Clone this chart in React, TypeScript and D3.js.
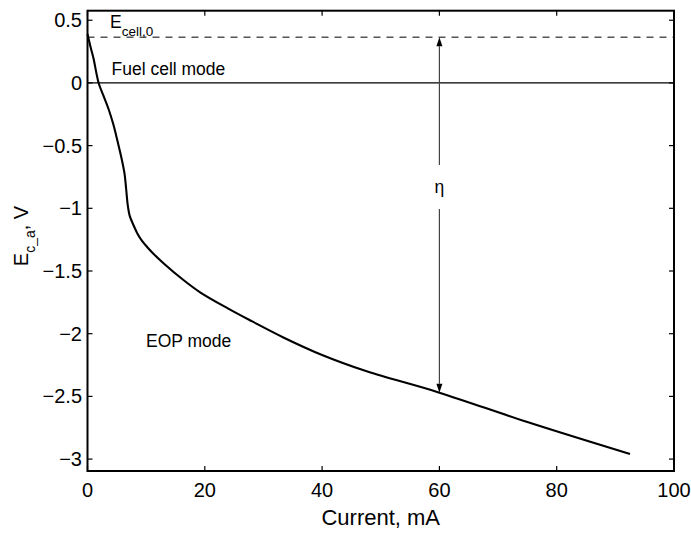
import React from "react";
import * as d3 from "d3";

// Polarisation curve: cell potential vs. current
const currentMA = [0, 0.5, 1.0, 1.9, 2.7, 3.6, 4.4, 5.15, 5.8, 6.3, 6.6, 6.85, 7.2, 7.8, 8.5, 9.3, 10.2, 11.2, 13, 16.3, 19.2, 24, 28, 33.4, 40, 47.6, 60, 75, 92.5];
const potentialV = [0.39, 0.29, 0.2, 0, -0.1, -0.21, -0.33, -0.47, -0.6, -0.72, -0.85, -0.97, -1.06, -1.13, -1.2, -1.26, -1.31, -1.36, -1.44, -1.57, -1.67, -1.8, -1.9, -2.03, -2.17, -2.3, -2.47, -2.705, -2.96];

const xTicks = [0, 20, 40, 60, 80, 100];
const yTicks = [0.5, 0, -0.5, -1, -1.5, -2, -2.5, -3];

const eCell0 = 0.365;
const etaCurrent = 60;
const etaPotential = -2.47;
const etaLabelV = -0.83;

const W = 691;
const H = 533;
const left = 87.5;
const right = 674;
const top = 10.7;
const bottom = 471;

export default function App() {
  const x = d3.scaleLinear().domain([0, 100]).range([left, right]);
  const y = d3.scaleLinear().domain([-3.095, 0.576]).range([bottom, top]);
  const fmt = d3.format("~g");

  const pts: [number, number][] = currentMA.map((c, i) => [c, potentialV[i]]);
  const line = d3
    .line<[number, number]>()
    .x((d) => x(d[0]))
    .y((d) => y(d[1]))
    .curve(d3.curveCatmullRom.alpha(0.5));

  const font = "'Liberation Sans', Arial, Helvetica, sans-serif";
  const tickLen = 5;
  const ax = x(etaCurrent);
  const ahL = 9;
  const ahW = 3;
  const yTopTip = y(eCell0);
  const yBotTip = y(etaPotential);
  const yGapTop = y(etaLabelV + 0.175);
  const yGapBot = y(etaLabelV - 0.175);

  return (
    <div style={{ position: "fixed", left: 0, top: 0, width: W, height: H, background: "#fff" }}>
      <svg width={W} height={H} fontFamily={font}>
        <rect width={W} height={H} fill="#fff" />
        {/* zero line */}
        <line x1={left} x2={right} y1={y(0)} y2={y(0)} stroke="#000" strokeWidth={1.2} />
        {/* open-circuit potential */}
        <line x1={left} x2={right} y1={yTopTip} y2={yTopTip} stroke="#000" strokeWidth={1} strokeDasharray="7,6" />
        {/* curve */}
        <path d={line(pts) ?? ""} fill="none" stroke="#000" strokeWidth={2.1} strokeLinejoin="round" />

        {/* eta arrow */}
        <line x1={ax} x2={ax} y1={yGapTop} y2={yTopTip + ahL} stroke="#444" strokeWidth={1.2} />
        <path d={`M${ax},${yTopTip} L${ax - ahW},${yTopTip + ahL} L${ax + ahW},${yTopTip + ahL} Z`} fill="#000" />
        <line x1={ax} x2={ax} y1={yGapBot} y2={yBotTip - ahL} stroke="#444" strokeWidth={1.2} />
        <path d={`M${ax},${yBotTip} L${ax - ahW},${yBotTip - ahL} L${ax + ahW},${yBotTip - ahL} Z`} fill="#000" />
        <text x={ax} y={y(etaLabelV) + 6} fontSize={17.5} textAnchor="middle">η</text>

        {/* annotations */}
        <text x={110} y={28} fontSize={17.5}>
          E
          <tspan fontSize={13.5} dy={8}>cell,0</tspan>
        </text>
        <text x={111.5} y={75} fontSize={17.5}>Fuel cell mode</text>
        <text x={146} y={347} fontSize={17.5}>EOP mode</text>

        {/* box */}
        <rect x={left} y={top} width={right - left} height={bottom - top} fill="none" stroke="#000" strokeWidth={2} />

        {/* x ticks */}
        {xTicks.map((t) => (
          <g key={"x" + t}>
            <line x1={x(t)} x2={x(t)} y1={bottom} y2={bottom - tickLen} stroke="#000" strokeWidth={1.2} />
            <line x1={x(t)} x2={x(t)} y1={top} y2={top + tickLen} stroke="#000" strokeWidth={1.2} />
            <text x={x(t)} y={497} fontSize={20} textAnchor="middle">{fmt(t)}</text>
          </g>
        ))}
        {/* y ticks */}
        {yTicks.map((t) => (
          <g key={"y" + t}>
            <line x1={left} x2={left + tickLen} y1={y(t)} y2={y(t)} stroke="#000" strokeWidth={1.2} />
            <line x1={right} x2={right - tickLen} y1={y(t)} y2={y(t)} stroke="#000" strokeWidth={1.2} />
            <text x={82} y={y(t) + 7} fontSize={20} textAnchor="end">{fmt(t)}</text>
          </g>
        ))}

        {/* axis titles */}
        <text x={(left + right) / 2} y={525} fontSize={22} textAnchor="middle">Current, mA</text>
        <text transform={`translate(28,236) rotate(-90)`} fontSize={20} textAnchor="middle">
          E<tspan fontSize={14} dy={7}>c_a</tspan>
          <tspan dy={-7}>, V</tspan>
        </text>
      </svg>
    </div>
  );
}
